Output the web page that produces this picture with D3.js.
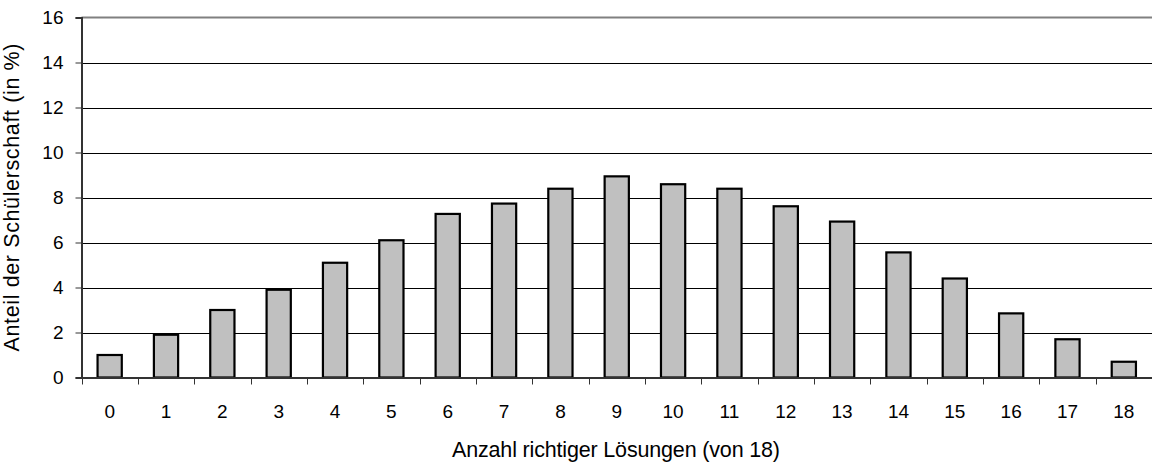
<!DOCTYPE html>
<html>
<head>
<meta charset="utf-8">
<script src="https://cdn.jsdelivr.net/npm/d3@7"></script>
<style>
  body { margin: 0; background: #fff; }
  text { font-family: "Liberation Sans", Arial, sans-serif; fill: #000; }
</style>
</head>
<body>
<script>
// Anzahl richtiger Lösungen
let categories = ["0", "1", "2", "3", "4", "5", "6", "7", "8", "9", "10", "11", "12", "13", "14", "15", "16", "17", "18"];
// Anteil in %
let values = [1.0, 1.9, 3.0, 3.9, 5.1, 6.1, 7.27, 7.73, 8.39, 8.94, 8.59, 8.39, 7.61, 6.93, 5.56, 4.4, 2.85, 1.7, 0.7];
let yTicks = [0, 2, 4, 6, 8, 10, 12, 14, 16];

let width = 1152, height = 463;
let mLeft = 81.5, mRight = 1152, mTop = 17.5, mBottom = 377.5;

const svg = d3.select("body")
  .append("svg")
  .attr("width", width)
  .attr("height", height);

let x = d3.scaleBand()
  .domain(categories)
  .range([mLeft, mRight])
  .paddingInner(0.57)
  .paddingOuter(0.285);

let y = d3.scaleLinear()
  .domain([0, 16])
  .range([mBottom, mTop]);

// gitterlinien
svg.append("g")
  .selectAll("line")
  .data(yTicks.filter(d => d > 0 && d < 16))
  .join("line")
  .attr("x1", mLeft)
  .attr("x2", mRight)
  .attr("y1", d => Math.round(y(d)) + 0.5)
  .attr("y2", d => Math.round(y(d)) + 0.5)
  .attr("stroke", "#000")
  .attr("stroke-width", 1);

// obere linie
svg.append("line")
  .attr("x1", mLeft)
  .attr("x2", mRight)
  .attr("y1", y(16))
  .attr("y2", y(16))
  .attr("stroke", "#808080")
  .attr("stroke-width", 2);

// balken
svg.append("g")
  .selectAll("rect")
  .data(values)
  .join("rect")
  .attr("x", (d, i) => x(categories[i]))
  .attr("y", d => y(d))
  .attr("width", x.bandwidth())
  .attr("height", d => y(0) - y(d))
  .attr("fill", "#c0c0c0")
  .attr("stroke", "#000")
  .attr("stroke-width", 2.2);

// y-achse
let yAxis = d3.axisLeft(y)
  .tickValues(yTicks)
  .tickSize(6)
  .tickPadding(12)
  .tickFormat(d3.format("d"));

let gy = svg.append("g")
  .attr("transform", `translate(${mLeft},0)`)
  .call(yAxis);
gy.select(".domain").attr("stroke", "#333").attr("stroke-width", 2);
gy.selectAll(".tick line").attr("stroke", "#333");
gy.selectAll("text")
  .style("font-size", "19px")
  .style("font-family", "Liberation Sans, Arial, sans-serif")
  .attr("fill", "#000");

// x-achse
let xAxis = d3.axisBottom(x)
  .tickSize(0)
  .tickPadding(27);

let gx = svg.append("g")
  .attr("transform", `translate(0,${mBottom})`)
  .call(xAxis);
gx.select(".domain").attr("stroke", "#333").attr("stroke-width", 2);
gx.selectAll("text")
  .style("font-size", "19px")
  .style("font-family", "Liberation Sans, Arial, sans-serif")
  .attr("fill", "#000");

// trennstriche zwischen den kategorien
let step = x.step();
gx.selectAll(".sep")
  .data(d3.range(categories.length))
  .join("line")
  .attr("class", "sep")
  .attr("x1", i => Math.round(mLeft + i * step) + 0.5)
  .attr("x2", i => Math.round(mLeft + i * step) + 0.5)
  .attr("y1", 0)
  .attr("y2", 7)
  .attr("stroke", "#333");

// achsentitel
svg.append("text")
  .attr("x", 616)
  .attr("y", 457)
  .attr("text-anchor", "middle")
  .attr("textLength", 328)
  .style("font-size", "21.5px")
  .text("Anzahl richtiger Lösungen (von 18)");

svg.append("text")
  .attr("transform", "translate(18.5,197.5) rotate(-90)")
  .attr("text-anchor", "middle")
  .attr("textLength", 308)
  .style("font-size", "21.5px")
  .text("Anteil der Schülerschaft (in %)");
</script>
</body>
</html>
